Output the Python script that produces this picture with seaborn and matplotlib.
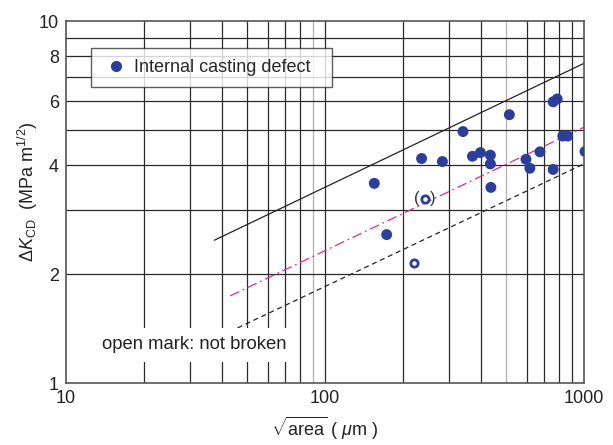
import matplotlib
matplotlib.use("Agg")
import matplotlib.pyplot as plt
import seaborn as sns
import numpy as np
import pandas as pd
from matplotlib.ticker import FixedLocator
from matplotlib.lines import Line2D

# ---- data ----
filled_x = [155, 173, 236, 284, 341, 371, 398, 435, 435, 437, 515, 597, 618, 676, 760, 788, 760, 828, 865, 1009]
filled_y = [3.56, 2.57, 4.17, 4.09, 4.95, 4.23, 4.33, 4.26, 4.03, 3.47, 5.51, 4.15, 3.92, 4.35, 5.98, 6.09, 3.89, 4.81, 4.81, 4.36]
open_x = [221, 243]
open_y = [2.14, 3.22]
paren_x = [243]
paren_y = [3.22]

upper_x = [37.4, 1000]
upper_y = [2.48, 7.64]
mean_x = [43, 1000]
mean_y = [1.74, 5.09]
lower_x = [46, 1000]
lower_y = [1.42, 4.03]

x_major = [10, 100, 1000]
x_grid = [20, 30, 40, 50, 60, 70, 80, 90, 200, 300, 400, 500, 600, 700, 800, 900]
y_ticks = [1, 2, 4, 6, 8, 10]
y_grid = [2, 3, 4, 5, 6, 7, 8, 9]

sns.set_style("white")
plt.rcParams['font.family'] = ['Liberation Sans', 'DejaVu Sans']
plt.rcParams['mathtext.fontset'] = 'custom'
plt.rcParams['mathtext.rm'] = 'Liberation Sans'
plt.rcParams['mathtext.it'] = 'Liberation Sans:italic'

fig = plt.figure(figsize=(6.13, 4.45), dpi=100)
ax = fig.add_axes([66/613, 1-383/445, (584-66)/613, (383-21)/445])
ax.set_xscale('log')
ax.set_yscale('log')
ax.set_xlim(10, 1000)
ax.set_ylim(1, 10)

gridc = '#2a2a2a'
for gx in x_grid:
    ax.axvline(gx, color=('#b0b0b0' if gx in (90, 500) else gridc), lw=0.9, zorder=0)
for gy in y_grid:
    ax.axhline(gy, color=gridc, lw=0.9, zorder=0)
ax.axvline(100, color=gridc, lw=0.9, zorder=0)

# lines
ax.plot(upper_x, upper_y, color='#222222', lw=0.9, zorder=2)
ax.plot(mean_x, mean_y, color='#e8288c', lw=0.9, ls=(0, (8, 3, 1.5, 3)), zorder=2)
ax.plot(lower_x, lower_y, color='#222222', lw=0.9, ls=(0, (4, 3)), zorder=2)

df = pd.DataFrame({'x': filled_x, 'y': filled_y, 'kind': 'Internal casting defect'})
sns.scatterplot(data=df, x='x', y='y', hue='kind', palette=['#2b3f9a'], s=62,
                edgecolor='none', ax=ax, zorder=3, legend=False)
ax.scatter(open_x, open_y, s=28, facecolor='white', edgecolor='#2b3f9a', linewidth=2.0, zorder=4)
for px, py in zip(paren_x, paren_y):
    ax.annotate('(', xy=(px, py), xytext=(-8, 1), textcoords='offset pixels',
                ha='center', va='center', fontsize=12, color='#333333', zorder=6)
    ax.annotate(')', xy=(px, py), xytext=(8, 1), textcoords='offset pixels',
                ha='center', va='center', fontsize=12, color='#333333', zorder=6)

ax.set_xticks(x_major)
ax.set_xticklabels(['10', '100', '1000'])
ax.xaxis.set_minor_locator(FixedLocator([]))
ax.set_yticks(y_ticks)
ax.set_yticklabels([str(v) for v in y_ticks])
ax.yaxis.set_minor_locator(FixedLocator([]))
ax.tick_params(axis='both', which='major', labelsize=13, direction='in', length=4,
               width=1, colors='#222222', pad=5)
for sp in ax.spines.values():
    sp.set_color('#555555')
    sp.set_linewidth(1.2)

ax.set_xlabel(r'$\sqrt{\mathrm{area}}$ ( $\mu$m )', fontsize=13, labelpad=6, color='#222222')
ax.set_ylabel(r'$\Delta K_{\mathrm{CD}}$  (MPa m$^{1/2}$)', fontsize=13, color='#222222')
ax.yaxis.set_label_coords(-0.05, 0.53)

# legend
h = [Line2D([], [], marker='o', ls='none', color='#2b3f9a', markersize=7)]
leg = ax.legend(h, ['Internal casting defect  '], loc='upper left', bbox_to_anchor=(0.048, 0.925),
                frameon=True, fancybox=False, fontsize=13, handletextpad=0.2,
                borderpad=0.6, handlelength=1.6, borderaxespad=0)
leg.get_frame().set_edgecolor('#333333')
leg.get_frame().set_linewidth(1.0)

ax.text(0.07, 0.105, 'open mark: not broken', transform=ax.transAxes, fontsize=13.3,
        color='#222222', ha='left', va='center',
        bbox=dict(facecolor='white', edgecolor='none', pad=6))

fig.savefig('out.png', dpi=100)
